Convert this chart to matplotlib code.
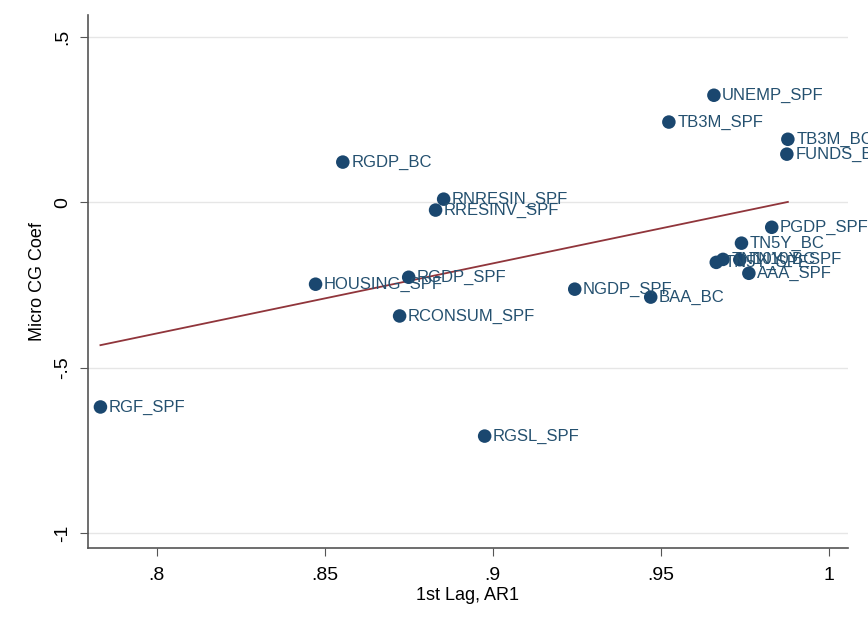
import matplotlib.pyplot as plt
import numpy as np

plt.rcParams['font.family'] = ['Liberation Sans', 'DejaVu Sans']

# series names and (AR1, micro CG coef)
names = ['UNEMP_SPF', 'TB3M_SPF', 'TB3M_BC', 'FUNDS_BC', 'RGDP_BC',
         'RNRESIN_SPF', 'RRESINV_SPF', 'PGDP_SPF', 'TN5Y_BC', 'TN5Y_SPF',
         'TN10Y_BC', 'TN10Y_SPF', 'AAA_SPF', 'BAA_BC', 'NGDP_SPF',
         'RGDP_SPF', 'HOUSING_SPF', 'RCONSUM_SPF', 'RGF_SPF', 'RGSL_SPF']
ar1 = [0.9658, 0.9524, 0.9878, 0.9875, 0.8554,
       0.8854, 0.8830, 0.9830, 0.9740, 0.9665,
       0.9685, 0.9735, 0.9762, 0.9470, 0.9244,
       0.8750, 0.8473, 0.8723, 0.7833, 0.8976]
coef = [0.323, 0.242, 0.190, 0.145, 0.121,
        0.009, -0.024, -0.076, -0.124, -0.182,
        -0.173, -0.174, -0.215, -0.287, -0.263,
        -0.227, -0.248, -0.344, -0.619, -0.707]

xticks = [0.8, 0.85, 0.9, 0.95, 1.0]
xtick_labels = ['.8', '.85', '.9', '.95', '1']
yticks = [-1, -0.5, 0, 0.5]
ytick_labels = ['-1', '-.5', '0', '.5']

navy = '#1a476f'
maroon = '#90353b'

fig = plt.figure(figsize=(8.68, 6.32), dpi=100)
ax = fig.add_axes([0.101, 0.133, 0.876, 0.843])

x = np.array(ar1)
y = np.array(coef)

for yt in yticks:
    ax.axhline(yt, color='#e6e6e6', lw=1, zorder=0)

# linear fit
b, a = np.polyfit(x, y, 1)
xf = np.array([x.min(), x.max()])
ax.plot(xf, a + b * xf, color=maroon, lw=1.3, zorder=2)

ax.scatter(x, y, s=95, color=navy, zorder=3, edgecolors='none')
for n, xi, yi in zip(names, x, y):
    ax.annotate(n, (xi, yi), xytext=(6, 0), textcoords='offset points',
                va='center', ha='left', fontsize=12, color='#24506f',
                annotation_clip=False, zorder=4)

ax.set_xlim(0.7795, 1.0057)
ax.set_ylim(-1.045, 0.565)
ax.set_xticks(xticks)
ax.set_xticklabels(xtick_labels)
ax.set_yticks(yticks)
ax.set_yticklabels(ytick_labels, rotation=90, va='center')
ax.tick_params(labelsize=14, length=6, color='#555555', pad=8)
ax.tick_params(axis='y', pad=6)
ax.set_xlabel('1st Lag, AR1', fontsize=13, labelpad=2)
ax.set_ylabel('Micro CG Coef', fontsize=13, labelpad=6)

for s in ['top', 'right']:
    ax.spines[s].set_visible(False)
for s in ['left', 'bottom']:
    ax.spines[s].set_color('#555555')
    ax.spines[s].set_linewidth(1.2)

fig.savefig('out.png', dpi=100)
